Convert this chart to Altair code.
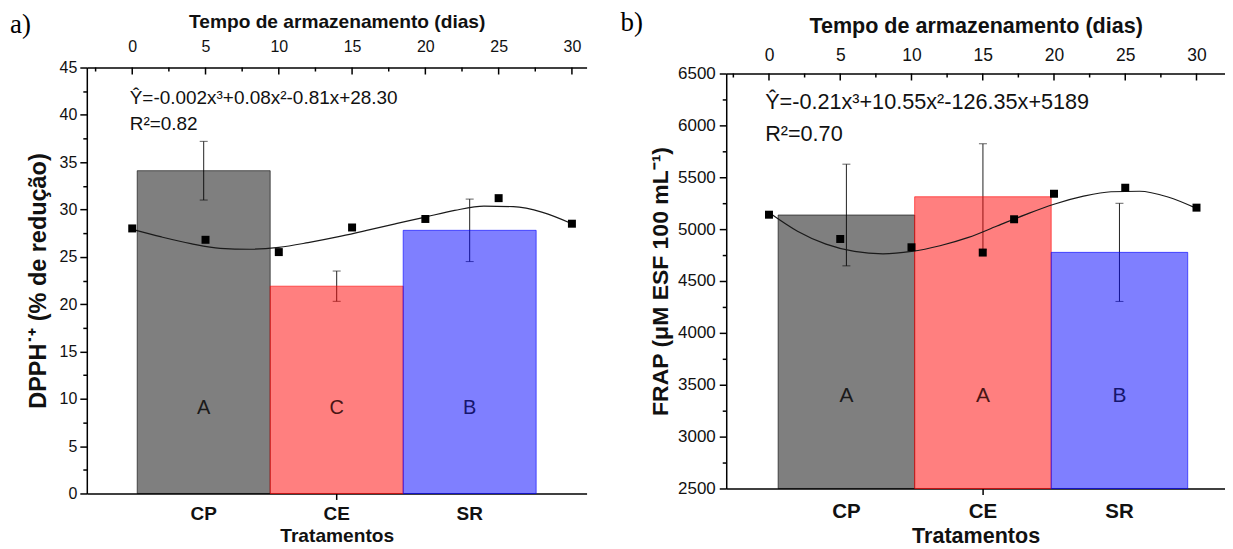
import altair as alt
import pandas as pd

FONT = "Liberation Sans"
SERIF = "Liberation Serif"

# ---------------- data ----------------
treatments = ["CP", "CE", "SR"]
bar_fill = ["#000000", "#FF0000", "#0000FF"]
letter_color = ["#1a1a1a", "#4a1414", "#16166e"]

dpph_mean = [34.1, 21.9, 27.8]
dpph_sd = [3.1, 1.6, 3.3]
dpph_letters = ["A", "C", "B"]

frap_mean = [5136, 5312, 4776]
frap_sd = [490, 510, 473]
frap_letters = ["A", "A", "B"]

dpph_days = [0, 5, 10, 15, 20, 25, 30]
dpph_obs = [28.0, 26.8, 25.5, 28.1, 29.0, 31.2, 28.5]

frap_days = [0, 5, 10, 15, 17.2, 20, 25, 30]
frap_obs = [5139, 4905, 4825, 4774, 5095, 5341, 5399, 5207]

fit_days = [0, 2, 4, 6, 8, 10, 12, 14, 16, 18, 20, 22, 24, 26, 28, 30]
dpph_fit = [27.9, 27.1, 26.4, 25.9, 25.8, 26.0, 26.5, 27.1, 27.8, 28.5, 29.2, 29.9, 30.35, 30.3, 29.7, 28.5]
frap_fit = [5160, 4980, 4855, 4785, 4762, 4785, 4840, 4920, 5030, 5140, 5240, 5315, 5360, 5365, 5310, 5200]

day_major = [0, 5, 10, 15, 20, 25, 30]
day_minor = [-2.5, 2.5, 7.5, 12.5, 17.5, 22.5, 27.5]
dpph_yticks = [0, 2.5, 5, 7.5, 10, 12.5, 15, 17.5, 20, 22.5, 25, 27.5, 30, 32.5, 35, 37.5, 40, 42.5, 45]
frap_yticks = [2500, 2750, 3000, 3250, 3500, 3750, 4000, 4250, 4500, 4750, 5000,
               5250, 5500, 5750, 6000, 6250, 6500]

dpph_eq = "Ŷ=-0.002x³+0.08x²-0.81x+28.30"
dpph_r2 = "R²=0.82"
frap_eq = "Ŷ=-0.21x³+10.55x²-126.35x+5189"
frap_r2 = "R²=0.70"


def make_panel(tag, means, sds, letters, letter_y, ytitle, ydom, yticks, ymajor,
               obs_days, obs, fit, day_dom, eq, r2, w, h, p):
    gap = p["gap"]
    bar_df = pd.DataFrame({
        "t": treatments,
        "mean": means,
        "lo": [m - s for m, s in zip(means, sds)],
        "hi": [m + s for m, s in zip(means, sds)],
        "fill": bar_fill,
        "lc": letter_color,
        "letter": letters,
    })
    ysc = alt.Scale(domain=ydom, nice=False, zero=False, range=[h, gap])
    yax = alt.Axis(
        values=yticks, title=ytitle, grid=False, labelOverlap=False,
        labelExpr=f"datum.value % {ymajor} == 0 ? format(datum.value, 'd') : ''",
        tickSize={"condition": {"test": f"datum.value % {ymajor} != 0", "value": 4}, "value": 7},
        labelFontSize=p["tick_fs"], labelPadding=p["ylabpad"],
        titleFontSize=p["ytitle_fs"], titlePadding=p["ytitlepad"], titleFontWeight="bold",
    )
    xb = alt.X(
        "t:N", sort=treatments,
        scale=alt.Scale(domain=treatments, paddingInner=0, paddingOuter=p["po"], align=p["align"]),
        axis=alt.Axis(
            orient="bottom", title="Tratamentos", labelAngle=0, grid=False,
            tickSize=6,
            tickOpacity={"condition": {"test": "datum.value === 'CE'", "value": 1}, "value": 0},
            labelFontSize=p["cat_fs"], labelFontWeight="bold", labelPadding=p["blabpad"],
            titleFontSize=p["title_fs"], titleFontWeight="bold", titlePadding=p["btitlepad"],
        ),
    )
    base = alt.Chart(bar_df)
    err = base.mark_rule(color="#222222", strokeWidth=1).encode(
        x=xb, y=alt.Y("lo:Q", scale=ysc, axis=yax), y2="hi:Q")
    cap_lo = base.mark_tick(color="#222222", thickness=1, size=8, orient="horizontal").encode(
        x=xb, y=alt.Y("lo:Q", scale=ysc, axis=yax))
    cap_hi = base.mark_tick(color="#222222", thickness=1, size=8, orient="horizontal").encode(
        x=xb, y=alt.Y("hi:Q", scale=ysc, axis=yax))
    bars = base.mark_bar(fillOpacity=0.5, strokeOpacity=0.6, strokeWidth=1).encode(
        x=xb,
        y=alt.Y("mean:Q", scale=ysc, axis=yax),
        y2=alt.Y2(datum=ydom[0]),
        fill=alt.Fill("fill:N", scale=None),
        stroke=alt.Stroke("fill:N", scale=None),
    )
    txt = base.mark_text(font=FONT, fontSize=p["letter_fs"]).encode(
        x=xb, y=alt.Y(datum=letter_y, scale=ysc, axis=yax), text="letter:N",
        color=alt.Color("lc:N", scale=None))
    bar_layer = alt.layer(err, cap_lo, cap_hi, bars, txt)

    top_axis_kw = dict(
        orient="top", values=day_major, title="Tempo de armazenamento (dias)",
        ticks=False, grid=False, labelFontSize=p["ttick_fs"], labelPadding=p["tlabpad"],
        titleFontSize=p["title_fs"], titleFontWeight="bold", titlePadding=p["ttitlepad"],
    )
    if gap:
        top_axis_kw["offset"] = -gap
    xd = alt.X(
        "day:Q",
        scale=alt.Scale(domain=day_dom, nice=False, zero=False),
        axis=alt.Axis(**top_axis_kw),
    )
    fit_line = alt.Chart(pd.DataFrame({"day": fit_days, "v": fit})).mark_line(
        color="#1a1a1a", strokeWidth=1.2, interpolate="monotone").encode(
        x=xd, y=alt.Y("v:Q", scale=ysc, axis=yax))
    pts = alt.Chart(pd.DataFrame({"day": obs_days, "v": obs})).mark_square(
        size=64, color="black", opacity=1).encode(
        x=xd, y=alt.Y("v:Q", scale=ysc, axis=yax))
    tmaj = alt.Chart(pd.DataFrame({"day": day_major})).mark_rule(
        color="black", strokeWidth=1.5).encode(x=xd, y=alt.value(gap), y2=alt.value(gap + 7))
    tmin = alt.Chart(pd.DataFrame({"day": day_minor})).mark_rule(
        color="black", strokeWidth=1.5).encode(x=xd, y=alt.value(gap), y2=alt.value(gap + 4))
    eqt = alt.Chart(pd.DataFrame({"s": [eq]})).mark_text(
        align="left", baseline="middle", font=FONT, fontSize=p["eq_fs"], color="#111111").encode(
        x=alt.value(p["eq_x"]), y=alt.value(p["eq_y"]), text="s:N")
    r2t = alt.Chart(pd.DataFrame({"s": [r2]})).mark_text(
        align="left", baseline="middle", font=FONT, fontSize=p["eq_fs"], color="#111111").encode(
        x=alt.value(p["eq_x"]), y=alt.value(p["r2_y"]), text="s:N")
    tagt = alt.Chart(pd.DataFrame({"s": [tag]})).mark_text(
        align="left", baseline="middle", font=SERIF, fontSize=27, color="black").encode(
        x=alt.value(p["tag_x"]), y=alt.value(p["tag_y"]), text="s:N")
    day_layer = alt.layer(fit_line, pts, tmaj, tmin, eqt, r2t, tagt)

    return alt.layer(bar_layer, day_layer).resolve_scale(x="independent").properties(
        width=w, height=h)


pa = dict(gap=0, tick_fs=16, ttick_fs=16, ytitle_fs=23.5, title_fs=19.2, cat_fs=19, eq_fs=19,
          letter_fs=20, ylabpad=3, ytitlepad=9, blabpad=5, btitlepad=3, tlabpad=13, ttitlepad=7,
          po=0.379, align=0.5, eq_x=43, eq_y=31, r2_y=57, tag_x=-77, tag_y=-43)
pb = dict(gap=6, tick_fs=17, ttick_fs=17.5, ytitle_fs=23, title_fs=21.6, cat_fs=20.5, eq_fs=21.7,
          letter_fs=21, ylabpad=4, ytitlepad=5, blabpad=7, btitlepad=4, tlabpad=9, ttitlepad=9,
          po=0.3266, align=0.582, eq_x=39, eq_y=35, r2_y=67, tag_x=-106, tag_y=-45)

panel_a = make_panel("a)", dpph_mean, dpph_sd, dpph_letters, 9.0,
                     "DPPH˙⁺ (% de redução)", [0, 45], dpph_yticks, 5,
                     dpph_days, dpph_obs, dpph_fit, [-3.1, 31.0], dpph_eq, dpph_r2,
                     501, 427, pa)
panel_b = make_panel("b)", frap_mean, frap_sd, frap_letters, 3390,
                     "FRAP (μM ESF 100 mL⁻¹)", [2500, 6500], frap_yticks, 500,
                     frap_days, frap_obs, frap_fit, [-3.0, 32.0], frap_eq, frap_r2,
                     500, 422, pb)

chart = alt.hconcat(panel_a, panel_b, spacing=34).properties(
    padding={"left": 2, "top": 0, "right": 0, "bottom": 0}
).configure_view(stroke=None).configure_axis(
    domainColor="black", domainWidth=1.5, tickColor="black", tickWidth=1.5,
    labelFont=FONT, titleFont=FONT, labelColor="#111111", titleColor="#111111",
)

chart.save("out.html", embed_options={"renderer": "svg", "actions": False})
